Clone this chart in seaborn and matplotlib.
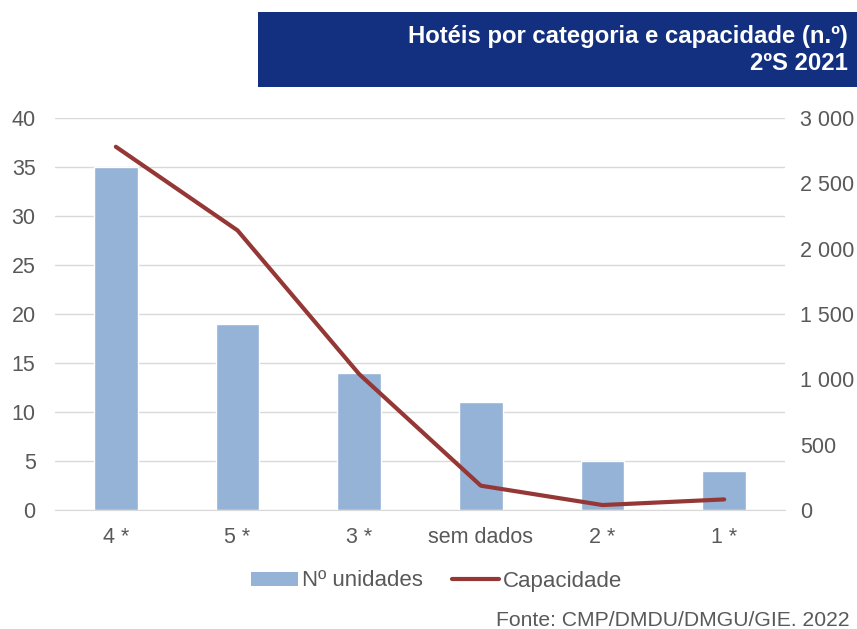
import matplotlib
matplotlib.use("Agg")
import matplotlib.pyplot as plt
from matplotlib.patches import Rectangle
from matplotlib.lines import Line2D
from matplotlib.patches import Patch
import seaborn as sns
import pandas as pd

categories = ["4 *", "5 *", "3 *", "sem dados", "2 *", "1 *"]
unidades = [35, 19, 14, 11, 5, 4]
capacidade = [2780, 2140, 1040, 186, 38, 81]
left_ticks = [0, 5, 10, 15, 20, 25, 30, 35, 40]
right_ticks = [0, 500, 1000, 1500, 2000, 2500, 3000]

sns.set_style("white")
plt.rcParams["font.family"] = ["Liberation Sans", "DejaVu Sans"]

df = pd.DataFrame({"cat": categories, "unidades": unidades, "capacidade": capacidade})

fig = plt.figure(figsize=(8.57, 6.29), dpi=100)
ax = fig.add_axes([55/857, 1 - 510/629, 730/857, 392/629])

bar_c = "#95B3D7"
line_c = "#953735"
txt_c = "#595959"
fs = 15.5

sns.barplot(data=df, x="cat", y="unidades", color=bar_c, width=0.36, ax=ax,
            saturation=1, zorder=2)
ax.set_ylim(0, 40)
ax.set_yticks(left_ticks)
ax.set_xlim(-0.5, 5.5)
ax.grid(axis="y", color="#D9D9D9", linewidth=1, zorder=0)
ax.set_axisbelow(True)
for s in ["top", "right", "left"]:
    ax.spines[s].set_visible(False)
ax.spines["bottom"].set_color("#D9D9D9")
ax.set_xlabel("")
ax.set_ylabel("")
ax.tick_params(axis="both", length=0, labelsize=fs, colors=txt_c)
ax.tick_params(axis="x", pad=12)
ax.tick_params(axis="y", pad=14)

ax2 = ax.twinx()
sns.lineplot(data=df, x="cat", y="capacidade", color=line_c, linewidth=3,
             ax=ax2, sort=False)
ax2.set_ylim(0, 3000)
ax2.set_yticks(right_ticks)
ax2.set_yticklabels([f"{v:,}".replace(",", " ") for v in right_ticks])
for s in ["top", "right", "left", "bottom"]:
    ax2.spines[s].set_visible(False)
ax2.set_ylabel("")
ax2.set_xlabel("")
ax2.tick_params(axis="y", length=0, labelsize=fs, colors=txt_c, pad=11)
ax2.grid(False)
ax2.set_xlim(-0.5, 5.5)

# title box
fig.patches.append(Rectangle((258/857, 1 - 87/629), (857-258)/857, 75/629,
                             transform=fig.transFigure, facecolor="#12307F",
                             edgecolor="none", zorder=0))
fig.text(848/857, 1 - 36/629, "Hotéis por categoria e capacidade (n.º)",
         ha="right", va="center", color="white", fontsize=17.2, fontweight="bold")
fig.text(848/857, 1 - 63/629, "2ºS 2021",
         ha="right", va="center", color="white", fontsize=17.2, fontweight="bold")

handles = [Patch(facecolor=bar_c, edgecolor="none"),
           Line2D([0], [0], color=line_c, linewidth=3)]
fig.legend(handles, ["Nº unidades", "Capacidade"], loc="center",
           bbox_to_anchor=(437/857, 1 - 581/629), ncol=2, frameon=False,
           fontsize=16, labelcolor=txt_c, handlelength=2.1, handletextpad=0.2,
           columnspacing=1.3, handleheight=0.6)

fig.text(850/857, 1 - 620/629, "Fonte: CMP/DMDU/DMGU/GIE. 2022",
         ha="right", va="center", color=txt_c, fontsize=15.2)

fig.savefig("out.png", dpi=100)
